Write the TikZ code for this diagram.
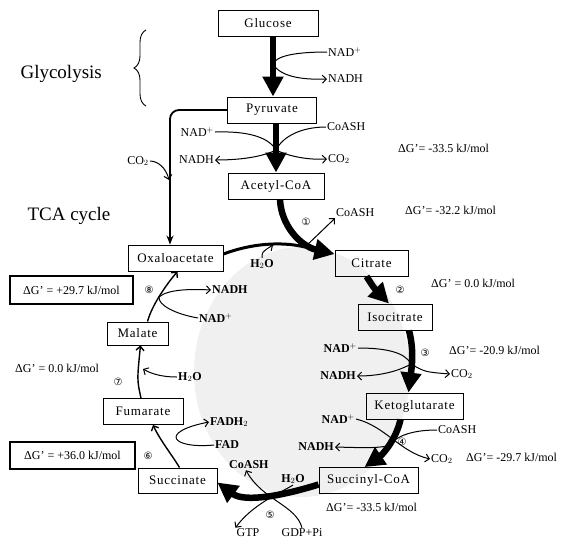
\documentclass[tikz,border=0pt]{standalone}
\usepackage{fontspec}
\setmainfont{Liberation Serif}
\newfontfamily\circfont{DejaVu Sans}
\newfontfamily\boxfont[LetterSpace=6]{Liberation Serif}
\usetikzlibrary{arrows.meta,decorations.pathreplacing,positioning}
\tikzset{
  >={Straight Barb[length=4pt,width=8pt]},
  molecule/.style={
    rectangle,
    draw=black, line width=0.9pt,
    font=\boxfont\fontsize{13}{15}\selectfont,
    minimum height=26pt,
    inner sep=2pt,
    text centered},
  dgbox/.style={rectangle, draw=black, line width=1.6pt,
    font=\fontsize{12}{14}\selectfont, minimum height=28pt},
  side/.style={font=\fontsize{12}{14}\selectfont, inner sep=1pt},
  bside/.style={font=\fontsize{12}{14}\selectfont\bfseries, inner sep=1pt},
  stepno/.style={font=\circfont\fontsize{10}{12}\selectfont, inner sep=0pt},
  title/.style={font=\fontsize{19}{22}\selectfont, anchor=west},
  bigarrow/.style={line width=6.5pt, -{Triangle[length=20pt,width=20pt]}},
  midarrow/.style={line width=1.4pt, ->},
  link/.style={line width=1pt},
}

\begin{document}
\begin{tikzpicture}[x=1pt,y=-1pt]
    \useasboundingbox (0,0) rectangle (563,542);
    % stippled inside of the cycle
    \fill[black!6] (302,372) ellipse [x radius=108pt, y radius=125pt];

    \node[title] (glyco) at (17,74) {Glycolysis};
    \node[title] (tca) at (24,216) {TCA cycle};
    \draw[line width=0.9pt, decorate, decoration={brace, amplitude=12pt}] (146,106) -- (146,30);

    % molecules
    \node[molecule, minimum width=100pt] (glucose) at (268,23) {Glucose};
    \node[molecule, minimum width=89pt] (pyruvate) at (272,110) {Pyruvate};
    \node[molecule, minimum width=96pt] (acetyl) at (276,186) {Acetyl-CoA};
    \node[molecule, minimum width=95pt] (oxalo) at (175.5,258) {Oxaloacetate};
    \node[molecule, minimum width=73pt] (citrate) at (371.5,263) {Citrate};
    \node[molecule, minimum width=74pt] (isocit) at (395,317) {Isocitrate};
    \node[molecule, minimum width=97pt] (ketoglu) at (414.5,406) {Ketoglutarate};
    \node[molecule, minimum width=99pt] (succoa) at (368.5,480.5) {Succinyl-CoA};
    \node[molecule, minimum width=79pt, minimum height=25pt] (succinate) at (177.5,480.5) {Succinate};
    \node[molecule, minimum width=80pt] (fumarate) at (143,411.5) {Fumarate};
    \node[molecule, minimum width=61pt, minimum height=23pt] (malate) at (137.5,333.5) {Malate};

    \node[dgbox, minimum width=123pt] (dgmal) at (71.5,290) {ΔG' = +29.7 kJ/mol};
    \node[dgbox, minimum width=125pt, minimum height=27pt] (dgsuc) at (72.5,455.5) {ΔG' = +36.0 kJ/mol};

    % glycolysis
    \node[side, anchor=west] (nadpa) at (327,52) {NAD$^{+}$};
    \node[side, anchor=west] (nadha) at (327,79) {NADH};
    \coordinate (ja) at (273,64);
    \draw[bigarrow] (glucose.south -| 273,0) -- (pyruvate.north -| 273,0);
    \draw[link] (nadpa.west) .. controls (295,52) and (276,56) .. (ja);
    \draw[link, ->] (ja) .. controls (280,76) and (300,80) .. (nadha.west);

    % pyruvate to acetyl-CoA
    \node[side, anchor=east] (nadpb) at (215,132) {NAD$^{+}$};
    \node[side, anchor=west] (coashb) at (326,127) {CoASH};
    \node[side, anchor=east] (nadhb) at (215,160) {NADH};
    \node[side, anchor=west] (co2b) at (327,159) {CO$_2$};
    \node[side, anchor=west] (dga) at (397,148) {ΔG'= -33.5 kJ/mol};
    \coordinate (jb) at (276,150);
    \draw[bigarrow] (pyruvate.south -| 276,0) -- (acetyl.north);
    \draw[link] (nadpb.east) .. controls (245,131) and (268,136) .. (jb);
    \draw[link] (coashb.west) .. controls (302,127) and (283,136) .. (jb);
    \draw[link, ->] (jb) .. controls (262,157) and (240,160) .. (nadhb.east);
    \draw[link, ->] (jb) .. controls (290,157) and (310,160) .. (co2b.west);

    % pyruvate to oxaloacetate
    \node[side] (co2a) at (138,161) {CO$_2$};
    \coordinate (ja2) at (169,180);
    \draw[line width=1.8pt, rounded corners=9pt, -{Stealth[length=9pt,width=7pt]}]
        (pyruvate.west) -| ([xshift=-5.5pt]oxalo.north);
    \draw[link, ->] (co2a.east) .. controls (158,161) and (166,168) .. (ja2);

    % (1) citrate synthase
    \node[stepno] (s1) at (306,222) {①};
    \node[side, anchor=west] (coash1) at (335,213) {CoASH};
    \node[side, anchor=west] (dgb) at (404,210) {ΔG'= -32.2 kJ/mol};
    \node[bside] (h2o1) at (262,264) {H$_2$O};
    \coordinate (j1) at (305,247);
    \draw[line width=3pt] ([yshift=4pt]oxalo.east) .. controls (250,244) and (280,241) .. (j1);
    \draw[bigarrow] ([xshift=4pt]acetyl.south) .. controls (281,225) and (300,246) .. ([yshift=9pt]citrate.west);
    \draw[link, ->] (h2o1.north) .. controls (262,252) .. (273,245);
    \draw[link, ->] (j1) -- (coash1.south west);

    % (2) aconitase
    \node[side, anchor=west] (dgc) at (430,283) {ΔG' = 0.0 kJ/mol};
    \node[stepno] (s2) at (400,290) {②};
    \draw[bigarrow] ([xshift=-5pt]citrate.south) .. controls (374,288) .. ([xshift=-6pt]isocit.north);

    % (3) isocitrate dehydrogenase
    \node[bside, anchor=east] (nadpc) at (358,348) {NAD$^{+}$};
    \node[stepno] (s3) at (425,353) {③};
    \node[side, anchor=west] (dgd) at (448,350) {ΔG'= -20.9 kJ/mol};
    \node[bside, anchor=east] (nadhc) at (357,376) {NADH};
    \node[side, anchor=west] (co2c) at (450,374) {CO$_2$};
    \coordinate (jc) at (411,364);
    \draw[bigarrow] ([xshift=14pt]isocit.south) .. controls (414,350) and (412,365) .. ([xshift=-6pt]ketoglu.north);
    \draw[link] (nadpc.east) .. controls (385,348) and (405,352) .. (jc);
    \draw[link, ->] (jc) .. controls (395,373) and (375,376) .. (nadhc.east);
    \draw[link, ->] (jc) .. controls (425,372) .. (co2c.west);

    % (4) ketoglutarate dehydrogenase
    \node[bside, anchor=east] (nadpd) at (356,419) {NAD$^{+}$};
    \node[side, anchor=west] (coashd) at (437,430) {CoASH};
    \node[stepno] (s4) at (402,442) {④};
    \node[bside, anchor=east] (nadhd) at (335,447) {NADH};
    \node[side, anchor=west] (co2d) at (430,459) {CO$_2$};
    \node[side, anchor=west] (dge) at (465,457) {ΔG'= -29.7 kJ/mol};
    \coordinate (jd) at (389,446);
    \draw[bigarrow] ([xshift=-14pt]ketoglu.south) .. controls (396,440) and (382,455) .. ([xshift=-4pt]succoa.north);
    \draw[link, ->] (nadpd.east) .. controls (385,426) and (400,452) .. (co2d.west);
    \draw[link] (coashd.west) .. controls (410,430) and (395,437) .. (jd);
    \draw[link, ->] (jd) .. controls (372,448) .. (nadhd.east);

    % (5) succinyl-CoA synthetase
    \node[bside] (h2o5) at (293,479) {H$_2$O};
    \node[bside, anchor=west] (coash5) at (228,465) {CoASH};
    \node[stepno] (s5) at (270,515) {⑤};
    \node[side, anchor=west] (dgf) at (325,507) {ΔG'= -33.5 kJ/mol};
    \node[side] (gdp) at (302,533) {GDP+Pi};
    \node[side] (gtp) at (248,533) {GTP};
    \draw[bigarrow] ([yshift=-4pt]succoa.west) .. controls (285,495) and (245,503) .. ([yshift=-2pt]succinate.east);
    \draw[link, ->] (gdp.north) .. controls (296,505) and (262,500) .. (coash5.south west -| 246,0);
    \draw[link, ->] (h2o5.south) .. controls (278,494) and (252,505) .. (gtp.north west);

    % (6) succinate dehydrogenase
    \node[stepno] (s6) at (148,456) {⑥};
    \node[bside, anchor=west] (fadh) at (209,422) {FADH$_2$};
    \node[bside, anchor=west] (fad) at (214,445) {FAD};
    \draw[midarrow] ([xshift=2pt]succinate.north) .. controls (172,455) and (160,440) .. ([xshift=10pt]fumarate.south);
    \draw[link, ->] (fad.west) .. controls (172,449) and (158,432) .. (fadh.west);

    % (7) fumarase
    \node[side, anchor=west] (dgg) at (14,368) {ΔG' = 0.0 kJ/mol};
    \node[stepno] (s7) at (118,382) {⑦};
    \node[bside, anchor=west] (h2o7) at (177,377) {H$_2$O};
    \draw[midarrow] ([xshift=-2pt]fumarate.north) .. controls (137,380) .. ([xshift=3pt]malate.south);
    \draw[link, ->] (h2o7.west) .. controls (160,377) and (150,373) .. (143,369);

    % (8) malate dehydrogenase
    \node[stepno] (s8) at (149,290) {⑧};
    \node[bside, anchor=west] (nadh8) at (211,290) {NADH};
    \node[bside, anchor=west] (nadp8) at (198,318) {NAD$^{+}$};
    \coordinate (j8) at (159,297);
    \draw[midarrow] ([xshift=10pt]malate.north) .. controls (152,305) and (166,285) .. ([xshift=2pt]oxalo.south);
    \draw[link] (nadp8.west) .. controls (175,314) and (158,305) .. (j8);
    \draw[link, ->] (j8) .. controls (168,289) and (192,289) .. (nadh8.west);

\end{tikzpicture}
\end{document}
